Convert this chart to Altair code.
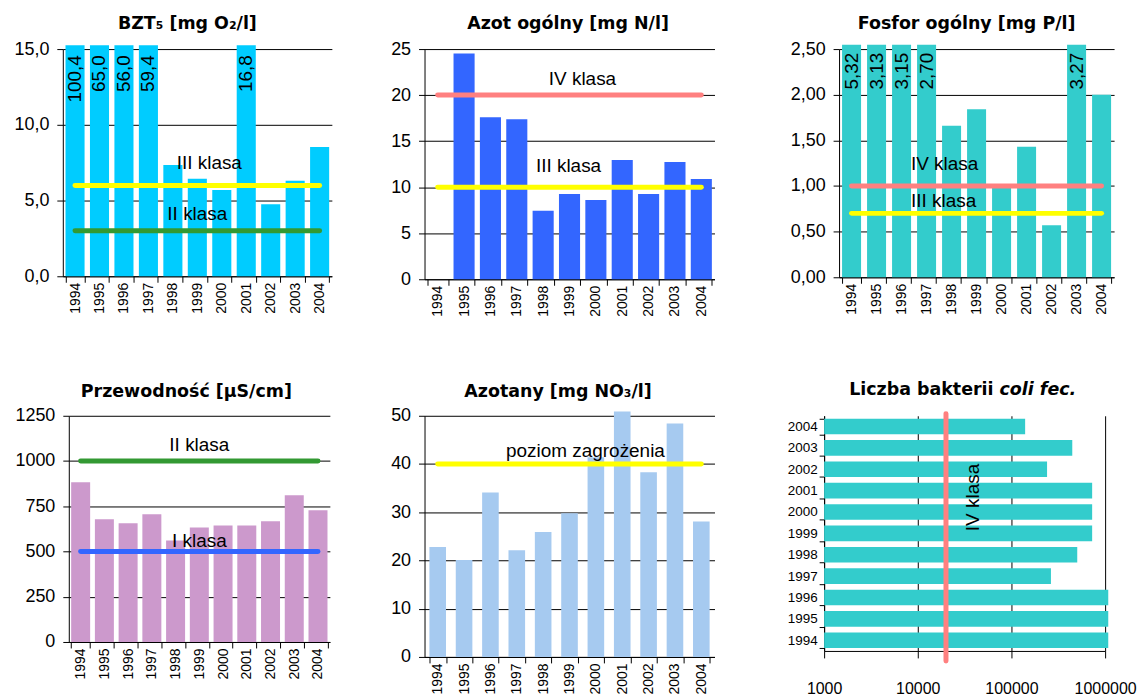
import altair as alt
import pandas as pd

# ---------------- data ----------------
years = ["1994", "1995", "1996", "1997", "1998", "1999",
         "2000", "2001", "2002", "2003", "2004"]

bzt5 = [100.4, 65.0, 56.0, 59.4, 7.34, 6.44, 5.69, 16.8, 4.75, 6.31, 8.54]
azot_ogolny = [None, 24.53, 17.6, 17.39, 7.43, 9.27, 8.62, 12.95, 9.27, 12.73, 10.89]
fosfor_ogolny = [5.32, 3.13, 3.15, 2.70, 1.66, 1.84, 0.98, 1.43, 0.57, 3.27, 2.00]
przewodnosc = [883, 678, 656, 706, 561, 633, 644, 644, 667, 811, 728]
azotany = [22.8, 20.1, 34.1, 22.1, 25.9, 29.8, 41.4, 50.9, 38.3, 48.4, 28.1]
coli_fec = [1080000, 1080000, 1080000, 264000, 504000, 727000,
            727000, 727000, 240000, 446000, 140000]

bzt5_classes = [("III klasa", 6.0), ("II klasa", 3.0)]
azot_classes = [("IV klasa", 20.0), ("III klasa", 10.0)]
fosfor_classes = [("IV klasa", 1.0), ("III klasa", 0.7)]
przew_classes = [("II klasa", 1000), ("I klasa", 500)]
azotany_levels = [("poziom zagrożenia", 40)]
coli_classes = [("IV klasa", 20000)]

coli_ticks = [1000, 10000, 100000, 1000000]

# ---------------- styles ----------------
FONT = "Liberation Sans"
TFONT = "DejaVu Sans"
YELLOW = "#FFFF00"
GREEN = "#339933"
RED = "#FF8080"
LBLUE = "#3366FF"


def fmt_expr(field, dec):
    if dec == 0:
        return f"format({field}, 'd')"
    return f"replace(format({field}, '.{dec}f'), '.', ',')"


def title_marks(parts):
    out = []
    for text, xpos, ypos, align, style in parts:
        out.append(
            alt.Chart(pd.DataFrame({"t": [text]}))
            .mark_text(font=TFONT, fontSize=17.5, fontWeight="bold", fontStyle=style,
                       align=align, baseline="alphabetic")
            .encode(x=alt.value(xpos), y=alt.value(ypos), text="t:N")
        )
    return out


def bar_panel(vals, color, ymax, ystep, dec, width, height, pad,
              classes, class_colors, label_pos, title_parts,
              clamp=None, vlab_dx=-10):
    df = pd.DataFrame({"year": years, "v": vals})
    nt = int(round(ymax / ystep))
    ticks = [round(i * ystep, 4) for i in range(nt + 1)]
    xenc = alt.X(
        "year:N", sort=years, title=None,
        scale=alt.Scale(domain=years, paddingInner=pad, paddingOuter=pad / 2),
        axis=alt.Axis(labelAngle=270, labelFontSize=14, labelPadding=0,
                      tickBand="extent", tickSize=6, grid=False,
                      labelOverlap=False),
    )
    yscale = alt.Scale(domain=[0, ymax], nice=False, zero=True)
    yaxis = alt.Axis(values=ticks, labelExpr=fmt_expr("datum.value", dec),
                     labelFontSize=18, labelPadding=8, tickSize=6, grid=True,
                     labelOverlap=False)
    base = alt.Chart(df)
    layers = []
    if clamp is not None:
        bars = (base.transform_calculate(vc=f"min(datum.v, {clamp})")
                .mark_bar(color=color, clip=False)
                .encode(x=xenc, y=alt.Y("vc:Q", scale=yscale, axis=yaxis, title=None)))
    else:
        bars = (base.mark_bar(color=color, clip=False)
                .encode(x=xenc, y=alt.Y("v:Q", scale=yscale, axis=yaxis, title=None)))
    layers.append(bars)

    dfr = pd.DataFrame({
        "x1": [years[0]] * len(classes),
        "x2": [years[-1]] * len(classes),
        "v": [c[1] for c in classes],
        "col": class_colors,
    })
    layers.append(
        alt.Chart(dfr).mark_rule(strokeWidth=5, strokeCap="round")
        .encode(x=alt.X("x1:N", sort=years), x2="x2:N", y="v:Q",
                color=alt.Color("col:N", scale=None))
    )

    if clamp is not None:
        layers.append(
            base.transform_filter(f"datum.v > {ymax}")
            .transform_calculate(vc=f"min(datum.v, {clamp})",
                                 lab=fmt_expr("datum.v", dec))
            .mark_text(angle=270, align="right", baseline="middle",
                       dx=vlab_dx, fontSize=19, font=FONT)
            .encode(x=alt.X("year:N", sort=years), y="vc:Q", text="lab:N")
        )

    for (text, val), (yr, dx, dy) in zip(classes, label_pos):
        layers.append(
            alt.Chart(pd.DataFrame({"year": [yr], "v": [val], "t": [text]}))
            .mark_text(fontSize=19, font=FONT, dx=dx, dy=dy, baseline="middle")
            .encode(x=alt.X("year:N", sort=years), y="v:Q", text="t:N")
        )
    layers += title_marks(title_parts)
    return alt.layer(*layers).properties(width=width, height=height)


p1 = bar_panel(bzt5, "#00CCFF", 15, 5, 1, 270, 228, 0.22,
               bzt5_classes, [YELLOW, GREEN],
               [("1999", 12, -22), ("1999", 0, -17)],
               [("BZT₅  [mg O₂/l]", 125, -20, "center", "normal")],
               clamp=15.26, vlab_dx=-10)

p2 = bar_panel(azot_ogolny, "#3366FF", 25, 5, 0, 291, 231, 0.2,
               azot_classes, [RED, YELLOW],
               [("1999", 13, -16), ("1999", -1, -21)],
               [("Azot ogólny  [mg N/l]", 144, -20, "center", "normal")])

p3 = bar_panel(fosfor_ogolny, "#33CCCC", 2.5, 0.5, 2, 276, 229, 0.24,
               fosfor_classes, [RED, YELLOW],
               [("1998", -7, -22), ("1998", -8, -12)],
               [("Fosfor ogólny  [mg P/l]", 128, -20, "center", "normal")],
               clamp=2.547, vlab_dx=-8)

p4 = bar_panel(przewodnosc, "#CC99CC", 1250, 250, 0, 262, 227, 0.2,
               przew_classes, [GREEN, LBLUE],
               [("1999", 0, -16), ("1999", 0, -11)],
               [("Przewodność [µS/cm]", 118, -19, "center", "normal")])

p5 = bar_panel(azotany, "#A6CAF0", 50, 10, 0, 291, 242, 0.37,
               azotany_levels, [YELLOW],
               [("1999", 16, -13)],
               [("Azotany [mg NO₃/l]", 134, -19, "center", "normal")])

# ---------------- bacteria panel ----------------
W6, H6 = 282, 236
ysort = years[::-1]
df6 = pd.DataFrame({"year": years, "v": coli_fec})
bars6 = alt.Chart(df6).mark_bar(color="#33CCCC", clip=False).encode(
    y=alt.Y("year:N", sort=ysort, title=None,
            scale=alt.Scale(domain=ysort, paddingInner=0.27, paddingOuter=0.135),
            axis=alt.Axis(labelFontSize=13.5, tickBand="extent", tickSize=5,
                          labelPadding=2, grid=False, labelOverlap=False)),
    x=alt.X("v:Q", title=None, stack=False,
            scale=alt.Scale(type="log", domain=[1000, 1000000], nice=False),
            axis=alt.Axis(values=coli_ticks, format="d", grid=True, tickSize=7,
                          labelPadding=23, labelFontSize=16, labelFlush=False,
                          labelOverlap=False)),
    x2=alt.value(0),
)
dfc = pd.DataFrame({"v": [c[1] for c in coli_classes], "t": [c[0] for c in coli_classes]})
rule6 = alt.Chart(dfc).mark_rule(color=RED, strokeWidth=5, strokeCap="round").encode(
    x="v:Q", y=alt.value(-2), y2=alt.value(H6 + 10))
lab6 = alt.Chart(dfc).mark_text(angle=270, fontSize=19, font=FONT, baseline="middle",
                                align="center", dy=27).encode(
    x="v:Q", y=alt.value(82), text="t:N")
p6 = alt.layer(bars6, rule6, lab6,
               *title_marks([("Liczba bakterii", 170, -21, "right", "normal"),
                             ("coli fec.", 176, -21, "left", "italic")])
               ).properties(width=W6, height=H6)


def spacer(w):
    return (alt.Chart(pd.DataFrame({"a": [0]}))
            .mark_point(opacity=0, size=1)
            .encode(x=alt.value(0), y=alt.value(0))
            .properties(width=w, height=10))


row1 = alt.hconcat(p1, spacer(93), p2, spacer(125), p3, spacing=0, bounds="flush")
row2 = alt.hconcat(spacer(6), p4, spacer(95), p5, spacer(110), p6, spacing=0, bounds="flush")

chart = (
    alt.vconcat(row1, row2, spacing=64)
    .properties(padding={"left": 5, "top": 6, "right": 2, "bottom": 0})
    .configure(font=FONT)
    .configure_view(strokeWidth=0, stroke="transparent")
    .configure_axis(domainColor="black", tickColor="black", gridColor="black",
                    labelColor="black", labelFont=FONT, domainWidth=1,
                    gridWidth=1, tickWidth=1)
)

chart.save("out.html", embed_options={"renderer": "svg", "actions": False})
